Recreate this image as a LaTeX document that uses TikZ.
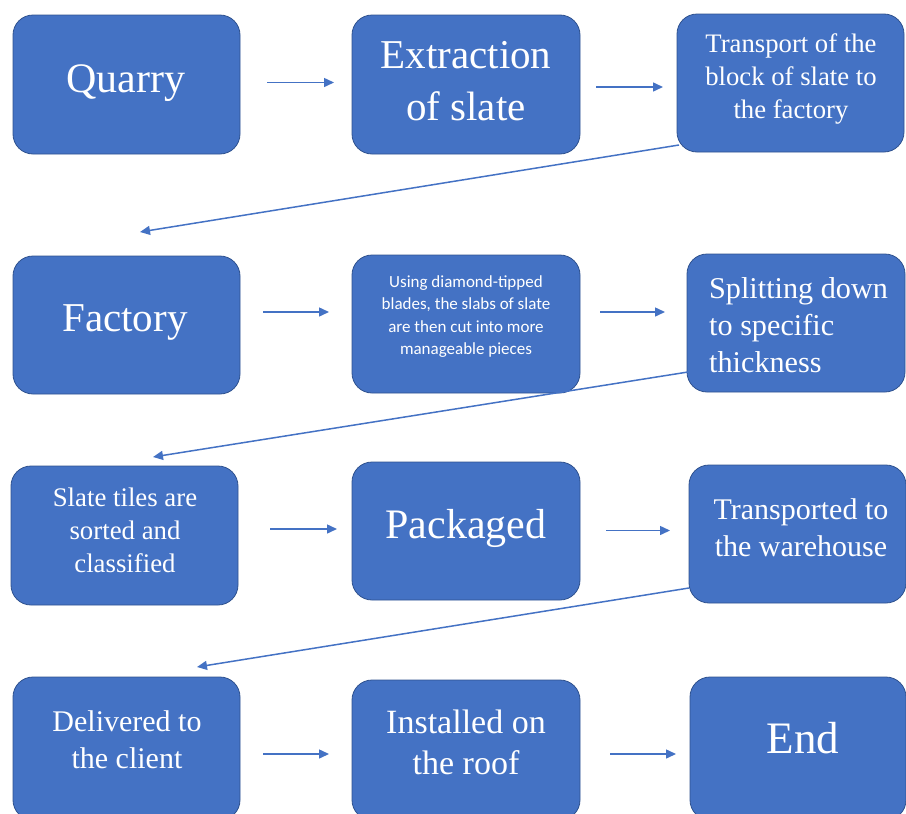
\documentclass[tikz,border=0pt]{standalone}
\usepackage{fontspec}
\setmainfont{Liberation Serif}
\newfontfamily\calfont{Carlito}
\usetikzlibrary{arrows.meta}
\definecolor{boxblue}{HTML}{4472C4}
\definecolor{boxedge}{HTML}{2F528F}
\newcommand\mybox[5]{\node[box, minimum width={(#4-#2)*1pt}, minimum height={(#5-#3)*1pt}] (#1) at ({(#2+#4)/2},{(#3+#5)/2}) {};}
\newcommand\fs[2]{\fontsize{#1}{#2}\selectfont}
\begin{document}
\begin{tikzpicture}[x=1pt,y=-1pt,
  box/.style={draw=boxedge, line width=0.8pt, fill=boxblue, rounded corners=20pt, inner sep=0pt},
  txt/.style={text=white, align=center, inner sep=0pt},
  arr/.style={draw=boxblue, line width=1.5pt, -{Triangle[length=10pt,width=9pt]}}]
\useasboundingbox (0,0) rectangle (906,814);
\clip (0,0) rectangle (906,814);
% boxes
\mybox{quarry}{13}{15}{240}{154}
\mybox{extr}{352}{15}{580}{154}
\mybox{transp}{677}{14}{904}{152}
\mybox{factory}{13}{256}{240}{394}
\mybox{using}{352}{255}{580}{393}
\mybox{split}{687}{254}{905}{392}
\mybox{slate}{11}{466}{238}{605}
\mybox{pack}{352}{462}{580}{600}
\mybox{transd}{689}{465}{906}{603}
\mybox{deliv}{13}{677}{240}{820}
\mybox{inst}{352}{680}{580}{820}
\mybox{endb}{690}{677}{906}{820}
% texts
\node[txt, font=\fs{42}{50}] (quarryT) at (126,83) {Quarry};
\node[txt, font=\fs{41}{52}] (extrT) at (466,81) {Extraction\\of slate};
\node[txt, font=\fs{26.7}{33}] (transpT) at (791,79) {Transport of the\\block of slate to\\the factory};
\node[txt, font=\fs{41}{50}] (factoryT) at (125,322) {Factory};
\node[txt, font=\calfont\fs{17}{22.5}] (usingT) at (466,316.5) {Using diamond-tipped\\blades, the slabs of slate\\are then cut into more\\manageable pieces};
\node[txt, align=left, anchor=west, font=\fs{30.2}{37}] (splitT) at (709,325.5) {Splitting down\\to specific\\thickness};
\node[txt, font=\fs{26.8}{33}] (slateT) at (125,530) {Slate tiles are\\sorted and\\classified};
\node[txt, font=\fs{42}{50}] (packT) at (466,528) {Packaged};
\node[txt, font=\fs{30}{37}] (transdT) at (801,527.5) {Transported to\\the warehouse};
\node[txt, font=\fs{30}{37}] (delivT) at (127,740) {Delivered to\\the client};
\node[txt, font=\fs{34}{41}] (instT) at (466,742) {Installed on\\the roof};
\node[txt, font=\fs{45}{50}] (endT) at (803,738) {End};
% connector end points
\coordinate (a1s) at (267,82.5); \coordinate (a1e) at (334,82.5);
\coordinate (a2s) at (596,87); \coordinate (a2e) at (663,87);
\coordinate (d1s) at (679,145); \coordinate (d1e) at (140,232);
\coordinate (a3s) at (263,312); \coordinate (a3e) at (329,312);
\coordinate (a4s) at (600,312); \coordinate (a4e) at (665,312);
\coordinate (d2s) at (688,372); \coordinate (d2e) at (153,457);
\coordinate (a5s) at (270,529); \coordinate (a5e) at (337,529);
\coordinate (a6s) at (606,530.5); \coordinate (a6e) at (670,530.5);
\coordinate (d3s) at (689,588); \coordinate (d3e) at (197,667);
\coordinate (a7s) at (263,754); \coordinate (a7e) at (329,754);
\coordinate (a8s) at (610,754); \coordinate (a8e) at (676,754);
\foreach \s/\e in {a1s/a1e,a2s/a2e,d1s/d1e,a3s/a3e,a4s/a4e,d2s/d2e,a5s/a5e,a6s/a6e,d3s/d3e,a7s/a7e,a8s/a8e}
  \draw[arr] (\s) -- (\e);
\end{tikzpicture}
\end{document}
